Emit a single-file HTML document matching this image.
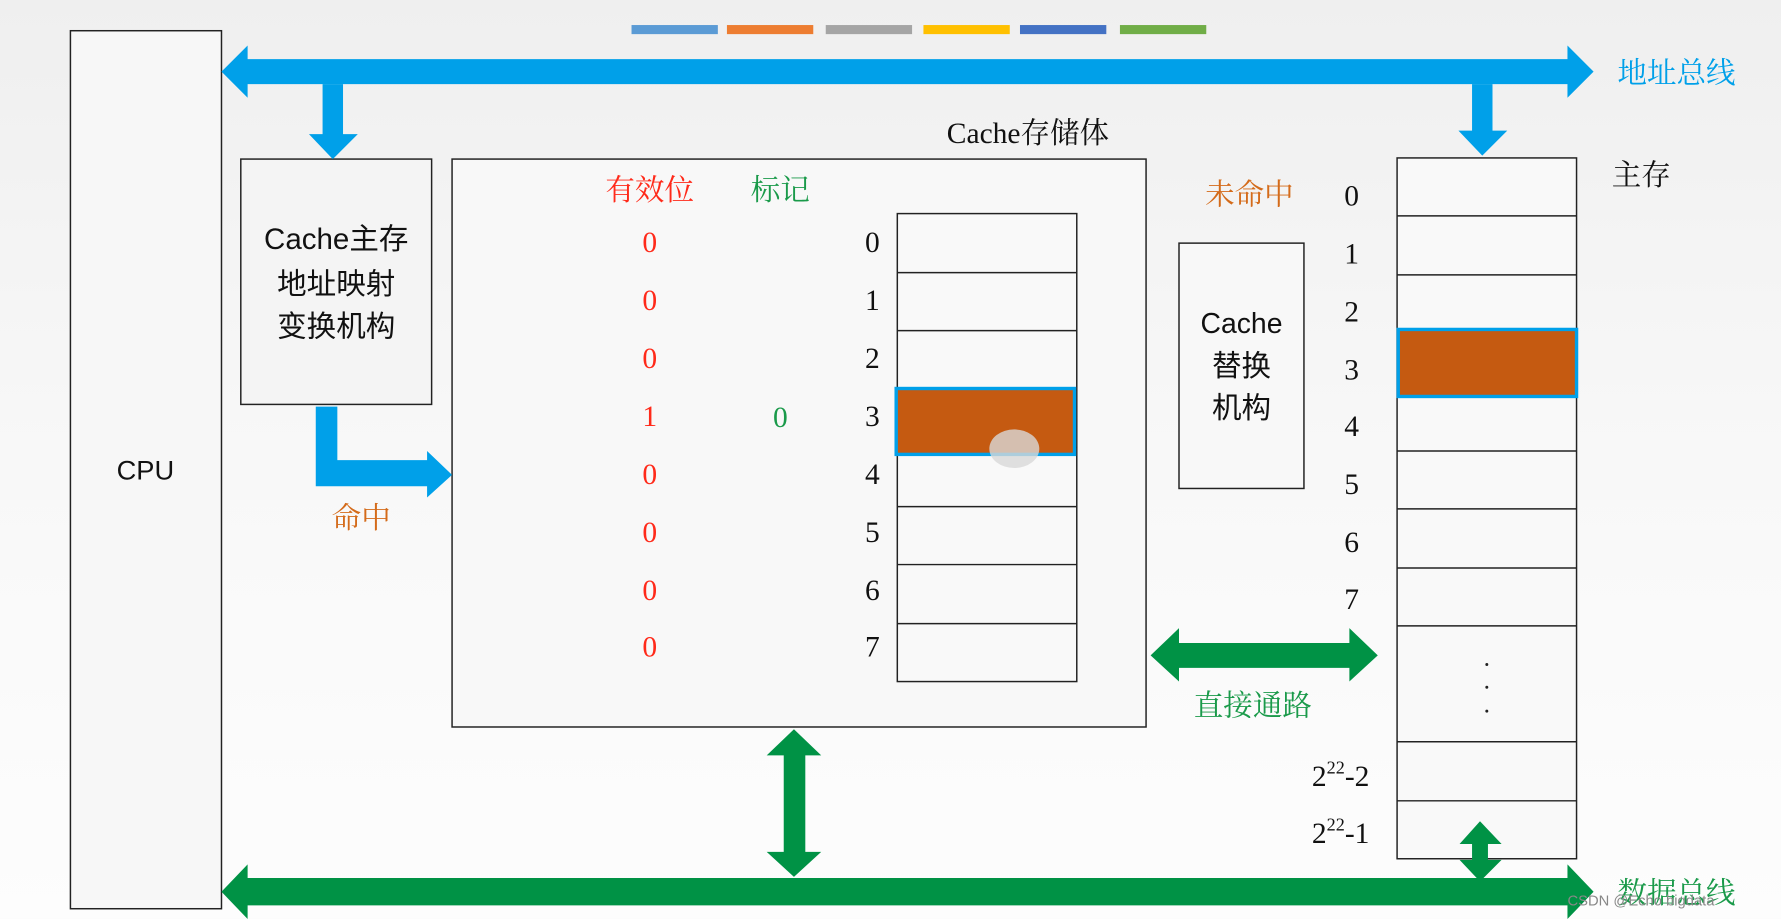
<!DOCTYPE html>
<html><head><meta charset="utf-8"><style>
html,body{margin:0;padding:0;background:#f4f4f4;}
svg{display:block}
.s{font-family:"Liberation Serif","Noto Serif CJK SC",serif}
.k{font-family:"Liberation Sans","Noto Sans CJK SC",sans-serif}
</style></head><body>
<svg width="1781" height="919" viewBox="0 0 1568 809" xmlns="http://www.w3.org/2000/svg">
<defs><linearGradient id="bg" x1="0" y1="0" x2="0" y2="1"><stop offset="0" stop-color="#efefef"/><stop offset="0.5" stop-color="#f8f8f8"/><stop offset="1" stop-color="#fdfdfd"/></linearGradient></defs>
<rect width="1568" height="809" fill="url(#bg)"/>
<g>
<rect x="556" y="22" width="76" height="8" fill="#5b9bd5"/>
<rect x="640" y="22" width="76" height="8" fill="#ed7d31"/>
<rect x="727" y="22" width="76" height="8" fill="#a5a5a5"/>
<rect x="813" y="22" width="76" height="8" fill="#ffc000"/>
<rect x="898" y="22" width="76" height="8" fill="#4472c4"/>
<rect x="986" y="22" width="76" height="8" fill="#70ad47"/>
</g>
<g fill="none" stroke="#222" stroke-width="1.3">
<rect x="62" y="27" width="133" height="773" fill="#f7f7f7"/>
<rect x="212" y="140" width="168" height="216" fill="#f4f4f4"/>
<rect x="398" y="140" width="611" height="500" fill="#f8f8f8"/>
<rect x="1038" y="214" width="110" height="216" fill="#f8f8f8"/>
<rect x="790" y="188" width="158" height="412" fill="#f9f9f9"/>
<line x1="790" y1="240" x2="948" y2="240"/><line x1="790" y1="291" x2="948" y2="291"/>
<line x1="790" y1="343" x2="948" y2="343"/><line x1="790" y1="394" x2="948" y2="394"/>
<line x1="790" y1="446" x2="948" y2="446"/><line x1="790" y1="497" x2="948" y2="497"/>
<line x1="790" y1="549" x2="948" y2="549"/>
<rect x="1230" y="139" width="158" height="617" fill="#f9f9f9"/>
<line x1="1230" y1="190" x2="1388" y2="190"/><line x1="1230" y1="242" x2="1388" y2="242"/>
<line x1="1230" y1="293" x2="1388" y2="293"/><line x1="1230" y1="345" x2="1388" y2="345"/>
<line x1="1230" y1="397" x2="1388" y2="397"/><line x1="1230" y1="448" x2="1388" y2="448"/>
<line x1="1230" y1="500" x2="1388" y2="500"/><line x1="1230" y1="551" x2="1388" y2="551"/>
<line x1="1230" y1="653" x2="1388" y2="653"/><line x1="1230" y1="705" x2="1388" y2="705"/>
</g>
<rect x="789" y="342" width="157" height="58" fill="#c55a11" stroke="#00a0e9" stroke-width="3"/>
<ellipse cx="893" cy="395" rx="22" ry="17" fill="#d8d8d8" opacity="0.8"/>
<rect x="1231" y="290" width="157" height="59" fill="#c55a11" stroke="#00a0e9" stroke-width="3"/>
<!-- blue arrows -->
<g fill="#00a0e9">
<polygon points="195,63 218,40 218,52 1380,52 1380,40 1403,63 1380,86 1380,74 218,74 218,86"/>
<polygon points="284,74 302,74 302,118 315,118 293,140 272,118 284,118"/>
<polygon points="1296,74 1314,74 1314,115 1327,115 1305,137 1284,115 1296,115"/>
<polygon points="278,358 297,358 297,405 376,405 376,397 398,418 376,438 376,428 278,428"/>
</g>
<!-- green arrows -->
<g fill="#009245">
<polygon points="195,785 218,761 218,773 1380,773 1380,761 1403,785 1380,809 1380,797 218,797 218,809"/>
<polygon points="1013,577 1038,553 1038,566 1188,566 1188,553 1213,577 1188,600 1188,588 1038,588 1038,600"/>
<polygon points="699,642 723,665 709,665 709,750 723,750 699,772 675,750 690,750 690,665 675,665"/>
<polygon points="1303,723 1322,743 1310,743 1310,757 1322,757 1303,776 1285,757 1296,757 1296,743 1285,743"/>
</g>
<g class="k" font-size="24" fill="#111" text-anchor="middle">
<text x="128" y="422">CPU</text>
<text x="296" y="219" font-size="26">Cache主存</text>
<text x="296" y="259" font-size="26">地址映射</text>
<text x="296" y="296" font-size="26">变换机构</text>
<text x="1093" y="293" font-size="25">Cache</text>
<text x="1093" y="331" font-size="26">替换</text>
<text x="1093" y="368" font-size="26">机构</text>
</g>
<g class="s" font-size="26" text-anchor="middle">
<text x="905" y="126" fill="#111">Cache存储体</text>
<text x="572" y="176" fill="#ff2a1a">有效位</text>
<text x="687" y="176" fill="#1a9a4a">标记</text>
<text x="1100" y="180" fill="#d46b1a">未命中</text>
<text x="318" y="465" fill="#d46b1a">命中</text>
<text x="1103" y="630" fill="#1a9a4a">直接通路</text>
<text x="1476" y="73" fill="#00a0e9">地址总线</text>
<text x="1445" y="163" fill="#111">主存</text>
<text x="1476" y="795" fill="#1a9a4a">数据总线</text>
</g>
<g class="s" font-size="26" text-anchor="middle" fill="#ff2a1a">
<text x="572" y="222">0</text><text x="572" y="273">0</text><text x="572" y="324">0</text><text x="572" y="375">1</text>
<text x="572" y="426">0</text><text x="572" y="477">0</text><text x="572" y="528">0</text><text x="572" y="578">0</text>
</g>
<text class="s" x="687" y="376" font-size="26" text-anchor="middle" fill="#1a9a4a">0</text>
<g class="s" font-size="26" text-anchor="middle" fill="#111">
<text x="768" y="222">0</text><text x="768" y="273">1</text><text x="768" y="324">2</text><text x="768" y="375">3</text>
<text x="768" y="426">4</text><text x="768" y="477">5</text><text x="768" y="528">6</text><text x="768" y="578">7</text>
<text x="1190" y="181">0</text><text x="1190" y="232">1</text><text x="1190" y="283">2</text><text x="1190" y="334">3</text>
<text x="1190" y="384">4</text><text x="1190" y="435">5</text><text x="1190" y="486">6</text><text x="1190" y="536">7</text>
</g>
<g class="s" font-size="26" fill="#111">
<text x="1155" y="692">2<tspan font-size="16" dy="-11">22</tspan><tspan dy="11">-2</tspan></text>
<text x="1155" y="742">2<tspan font-size="16" dy="-11">22</tspan><tspan dy="11">-1</tspan></text>
</g>
<g fill="#222"><circle cx="1309" cy="585" r="1.3"/><circle cx="1309" cy="605" r="1.3"/><circle cx="1309" cy="626" r="1.3"/></g>
<text class="k" x="1380" y="797" font-size="13" fill="#888">CSDN @Echo bigdata</text>
</svg>
</body></html>
